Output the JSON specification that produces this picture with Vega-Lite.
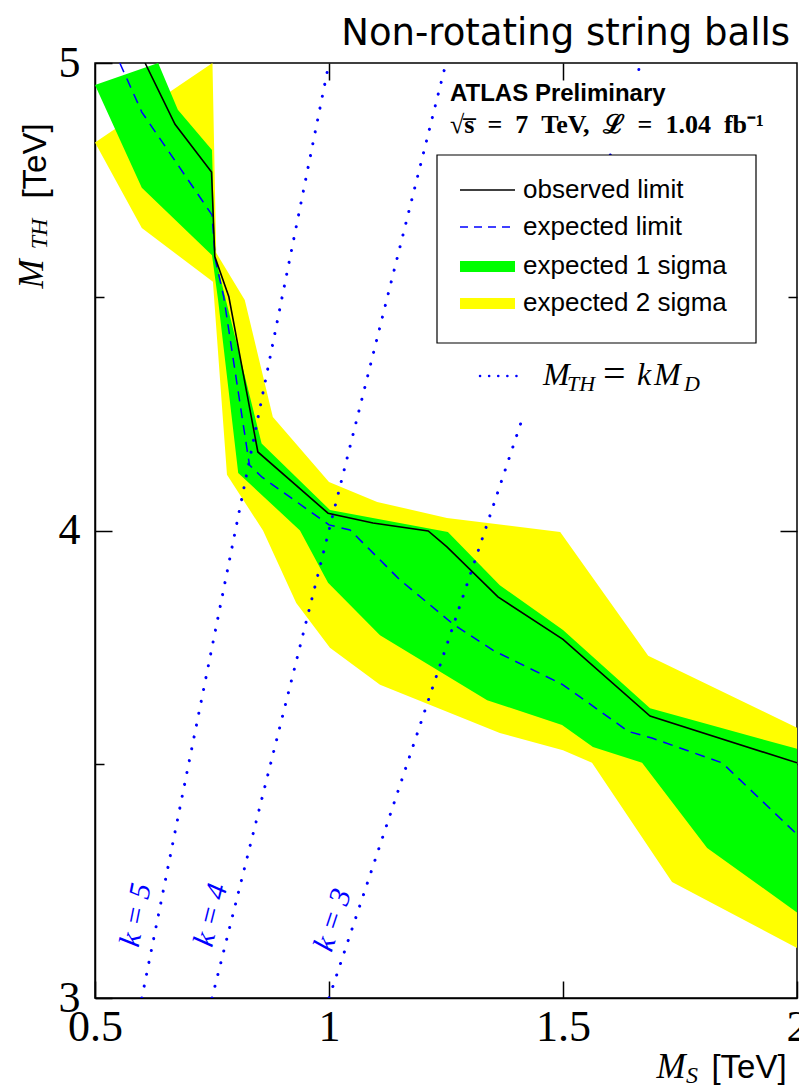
{
"$schema": "https://vega.github.io/schema/vega-lite/v6.json",
"width": 702, "height": 935,
"autosize": {"type": "none"},
"padding": {"left": 95, "top": 63, "right": 2, "bottom": 93},
"background": "white",
"config": {"view": {"stroke": "black", "strokeWidth": 1.5}, "axis": {"grid": false, "title": null, "zindex": 1}},
"resolve": {"axis": {"x": "independent", "y": "independent"}},
"datasets": {
"yellow": [
{"i":1,"ms":0.5,"mth":4.83},{"i":2,"ms":0.751,"mth":5.0},{"i":3,"ms":0.759,"mth":4.594},{"i":4,"ms":0.82,"mth":4.493},
{"i":5,"ms":0.88,"mth":4.243},{"i":6,"ms":1.0,"mth":4.104},{"i":7,"ms":1.103,"mth":4.061},{"i":8,"ms":1.252,"mth":4.027},
{"i":9,"ms":1.494,"mth":3.997},{"i":10,"ms":1.682,"mth":3.732},{"i":11,"ms":2.0,"mth":3.578},{"i":12,"ms":2.0,"mth":3.107},
{"i":13,"ms":1.733,"mth":3.248},{"i":14,"ms":1.562,"mth":3.503},{"i":15,"ms":1.5,"mth":3.53},{"i":16,"ms":1.365,"mth":3.567},
{"i":17,"ms":1.109,"mth":3.67},{"i":18,"ms":1.002,"mth":3.749},{"i":19,"ms":0.93,"mth":3.845},{"i":20,"ms":0.859,"mth":4.0},
{"i":21,"ms":0.782,"mth":4.119},{"i":22,"ms":0.755,"mth":4.49},{"i":23,"ms":0.752,"mth":4.532},{"i":24,"ms":0.6,"mth":4.647}
],
"green": [
{"i":1,"ms":0.5,"mth":4.953},{"i":2,"ms":0.635,"mth":5.0},{"i":3,"ms":0.677,"mth":4.9},{"i":4,"ms":0.75,"mth":4.814},
{"i":5,"ms":0.756,"mth":4.588},{"i":6,"ms":0.856,"mth":4.186},{"i":7,"ms":1.002,"mth":4.044},{"i":8,"ms":1.254,"mth":3.997},
{"i":9,"ms":1.365,"mth":3.883},{"i":10,"ms":1.5,"mth":3.787},{"i":11,"ms":1.686,"mth":3.62},{"i":12,"ms":2.0,"mth":3.533},
{"i":13,"ms":2.0,"mth":3.183},{"i":14,"ms":1.808,"mth":3.321},{"i":15,"ms":1.669,"mth":3.503},{"i":16,"ms":1.564,"mth":3.537},
{"i":17,"ms":1.498,"mth":3.584},{"i":18,"ms":1.338,"mth":3.637},{"i":19,"ms":1.109,"mth":3.776},{"i":20,"ms":0.998,"mth":3.888},
{"i":21,"ms":0.938,"mth":4.0},{"i":22,"ms":0.806,"mth":4.123},{"i":23,"ms":0.763,"mth":4.493},{"i":24,"ms":0.75,"mth":4.589},
{"i":25,"ms":0.6,"mth":4.733}
],
"observed": [
{"ms":0.607,"mth":5.0},{"ms":0.671,"mth":4.869},{"ms":0.749,"mth":4.767},{"ms":0.756,"mth":4.586},{"ms":0.786,"mth":4.5},
{"ms":0.848,"mth":4.168},{"ms":0.998,"mth":4.037},{"ms":1.094,"mth":4.016},{"ms":1.212,"mth":3.999},{"ms":1.252,"mth":3.965},
{"ms":1.361,"mth":3.858},{"ms":1.5,"mth":3.767},{"ms":1.686,"mth":3.603},{"ms":2.0,"mth":3.503}
],
"expected": [
{"ms":0.553,"mth":5.0},{"ms":0.6,"mth":4.895},{"ms":0.75,"mth":4.675},{"ms":0.757,"mth":4.58},{"ms":0.775,"mth":4.5},
{"ms":0.83,"mth":4.14},{"ms":0.857,"mth":4.114},{"ms":1.0,"mth":4.012},{"ms":1.045,"mth":4.001},{"ms":1.152,"mth":3.894},
{"ms":1.265,"mth":3.8},{"ms":1.35,"mth":3.744},{"ms":1.5,"mth":3.67},{"ms":1.64,"mth":3.57},{"ms":1.69,"mth":3.556},
{"ms":1.84,"mth":3.503},{"ms":2.0,"mth":3.35}
],
"klines": [
{"seg":"k5","ms":0.6,"mth":3.0},{"seg":"k5","ms":1.0,"mth":5.0},
{"seg":"k4","ms":0.75,"mth":3.0},{"seg":"k4","ms":1.25,"mth":5.0},
{"seg":"k3a","ms":1.0,"mth":3.0},{"seg":"k3a","ms":1.412,"mth":4.236},
{"seg":"k3b","ms":1.601,"mth":4.803},{"seg":"k3b","ms":1.604,"mth":4.812},
{"seg":"k3c","ms":1.662,"mth":4.986},{"seg":"k3c","ms":1.6667,"mth":5.0}
]
},
"layer": [
{"data": {"name": "yellow"},
 "mark": {"type": "line", "fill": "#ffff00", "strokeOpacity": 0, "strokeWidth": 0, "clip": true},
 "encoding": {
  "x": {"field": "ms", "type": "quantitative", "scale": {"domain": [0.5, 2], "nice": false, "zero": false},
        "axis": {"orient": "bottom", "values": [0.5, 1, 1.5, 2], "format": "~g", "tickSize": -17, "tickColor": "black", "tickWidth": 1.5, "domainColor": "black", "domainWidth": 1.5, "labelFont": "Liberation Serif", "labelFontSize": 44, "labelColor": "black", "labelPadding": 24, "labelFlush": false, "labelOverlap": false}},
  "y": {"field": "mth", "type": "quantitative", "scale": {"domain": [3, 5], "nice": false, "zero": false},
        "axis": {"orient": "left", "values": [3, 4, 5], "format": "~g", "tickSize": -17, "tickColor": "black", "tickWidth": 1.5, "domainColor": "black", "domainWidth": 1.5, "labelFont": "Liberation Serif", "labelFontSize": 44, "labelColor": "black", "labelPadding": 32, "labelOverlap": false}},
  "order": {"field": "i", "type": "quantitative"}}},
{"data": {"name": "green"},
 "mark": {"type": "line", "fill": "#00ff00", "strokeOpacity": 0, "strokeWidth": 0, "clip": true},
 "encoding": {
  "x": {"field": "ms", "type": "quantitative", "scale": {"domain": [0.5, 2], "nice": false, "zero": false},
        "axis": {"orient": "top", "values": [1, 1.5], "tickSize": -17, "tickColor": "black", "tickWidth": 1.5, "labels": false, "domain": false}},
  "y": {"field": "mth", "type": "quantitative", "scale": {"domain": [3, 5], "nice": false, "zero": false},
        "axis": {"orient": "right", "values": [4], "tickSize": -17, "tickColor": "black", "tickWidth": 1.5, "labels": false, "domain": false}},
  "order": {"field": "i", "type": "quantitative"}}},
{"data": {"name": "klines"},
 "mark": {"type": "line", "color": "#0000ff", "strokeWidth": 3, "strokeDash": [0.1, 12], "strokeCap": "round", "clip": true},
 "encoding": {
  "x": {"field": "ms", "type": "quantitative", "scale": {"domain": [0.5, 2], "nice": false, "zero": false}, "axis": null},
  "y": {"field": "mth", "type": "quantitative", "scale": {"domain": [3, 5], "nice": false, "zero": false},
        "axis": {"orient": "left", "values": [3.5, 4.5], "tickSize": -9, "tickColor": "black", "tickWidth": 1.5, "labels": false, "domain": false}},
  "detail": {"field": "seg", "type": "nominal"}}},
{"data": {"name": "expected"},
 "mark": {"type": "line", "color": "#0000ff", "strokeWidth": 1.5, "strokeDash": [10, 7], "clip": true},
 "encoding": {
  "x": {"field": "ms", "type": "quantitative", "scale": {"domain": [0.5, 2], "nice": false, "zero": false}, "axis": null},
  "y": {"field": "mth", "type": "quantitative", "scale": {"domain": [3, 5], "nice": false, "zero": false},
        "axis": {"orient": "right", "values": [3.5, 4.5], "tickSize": -9, "tickColor": "black", "tickWidth": 1.5, "labels": false, "domain": false}}}},
{"data": {"name": "observed"},
 "mark": {"type": "line", "color": "black", "strokeWidth": 1.6, "clip": true},
 "encoding": {
  "x": {"field": "ms", "type": "quantitative", "scale": {"domain": [0.5, 2], "nice": false, "zero": false}, "axis": null},
  "y": {"field": "mth", "type": "quantitative", "scale": {"domain": [3, 5], "nice": false, "zero": false}, "axis": null}}},
{"data": {"values": [{}]},
 "mark": {"type": "rect", "fill": "white", "stroke": "black", "strokeWidth": 1.2},
 "encoding": {
  "x": {"datum": 1.23077, "type": "quantitative", "scale": {"domain": [0.5, 2], "nice": false, "zero": false}, "axis": null},
  "x2": {"datum": 1.91239},
  "y": {"datum": 4.80321, "type": "quantitative", "scale": {"domain": [3, 5], "nice": false, "zero": false}, "axis": null},
  "y2": {"datum": 4.40107}}},
{"data": {"values": [{}]},
 "mark": {"type": "rule", "color": "black", "strokeWidth": 1.5},
 "encoding": {
  "x": {"datum": 1.27991, "type": "quantitative", "scale": {"domain": [0.5, 2], "nice": false, "zero": false}, "axis": null},
  "x2": {"datum": 1.39744},
  "y": {"datum": 4.72834, "type": "quantitative", "scale": {"domain": [3, 5], "nice": false, "zero": false}, "axis": null}}},
{"data": {"values": [{}]},
 "mark": {"type": "rule", "color": "#0000ff", "strokeWidth": 1.5, "strokeDash": [8, 6]},
 "encoding": {
  "x": {"datum": 1.27991, "type": "quantitative", "scale": {"domain": [0.5, 2], "nice": false, "zero": false}, "axis": null},
  "x2": {"datum": 1.39744},
  "y": {"datum": 4.6492, "type": "quantitative", "scale": {"domain": [3, 5], "nice": false, "zero": false}, "axis": null}}},
{"data": {"values": [{}]},
 "mark": {"type": "rect", "fill": "#00ff00"},
 "encoding": {
  "x": {"datum": 1.27991, "type": "quantitative", "scale": {"domain": [0.5, 2], "nice": false, "zero": false}, "axis": null},
  "x2": {"datum": 1.39744},
  "y": {"datum": 4.57647, "type": "quantitative", "scale": {"domain": [3, 5], "nice": false, "zero": false}, "axis": null},
  "y2": {"datum": 4.55294}}},
{"data": {"values": [{}]},
 "mark": {"type": "rect", "fill": "#ffff00"},
 "encoding": {
  "x": {"datum": 1.27991, "type": "quantitative", "scale": {"domain": [0.5, 2], "nice": false, "zero": false}, "axis": null},
  "x2": {"datum": 1.39744},
  "y": {"datum": 4.49733, "type": "quantitative", "scale": {"domain": [3, 5], "nice": false, "zero": false}, "axis": null},
  "y2": {"datum": 4.4738}}},
{"data": {"values": [{}]},
 "mark": {"type": "text", "text": "observed limit", "font": "Liberation Sans", "fontSize": 26, "align": "left", "baseline": "middle", "color": "black"},
 "encoding": {
  "x": {"datum": 1.41453, "type": "quantitative", "scale": {"domain": [0.5, 2], "nice": false, "zero": false}, "axis": null},
  "y": {"datum": 4.72834, "type": "quantitative", "scale": {"domain": [3, 5], "nice": false, "zero": false}, "axis": null}}},
{"data": {"values": [{}]},
 "mark": {"type": "text", "text": "expected limit", "font": "Liberation Sans", "fontSize": 26, "align": "left", "baseline": "middle", "color": "black"},
 "encoding": {
  "x": {"datum": 1.41453, "type": "quantitative", "scale": {"domain": [0.5, 2], "nice": false, "zero": false}, "axis": null},
  "y": {"datum": 4.6492, "type": "quantitative", "scale": {"domain": [3, 5], "nice": false, "zero": false}, "axis": null}}},
{"data": {"values": [{}]},
 "mark": {"type": "text", "text": "expected 1 sigma", "font": "Liberation Sans", "fontSize": 26, "align": "left", "baseline": "middle", "color": "black"},
 "encoding": {
  "x": {"datum": 1.41453, "type": "quantitative", "scale": {"domain": [0.5, 2], "nice": false, "zero": false}, "axis": null},
  "y": {"datum": 4.56578, "type": "quantitative", "scale": {"domain": [3, 5], "nice": false, "zero": false}, "axis": null}}},
{"data": {"values": [{}]},
 "mark": {"type": "text", "text": "expected 2 sigma", "font": "Liberation Sans", "fontSize": 26, "align": "left", "baseline": "middle", "color": "black"},
 "encoding": {
  "x": {"datum": 1.41453, "type": "quantitative", "scale": {"domain": [0.5, 2], "nice": false, "zero": false}, "axis": null},
  "y": {"datum": 4.48663, "type": "quantitative", "scale": {"domain": [3, 5], "nice": false, "zero": false}, "axis": null}}},
{"data": {"values": [{}]},
 "mark": {"type": "rule", "color": "#0000ff", "strokeWidth": 2.5, "strokeDash": [0.1, 9], "strokeCap": "round"},
 "encoding": {
  "x": {"datum": 1.32265, "type": "quantitative", "scale": {"domain": [0.5, 2], "nice": false, "zero": false}, "axis": null},
  "x2": {"datum": 1.41453},
  "y": {"datum": 4.33048, "type": "quantitative", "scale": {"domain": [3, 5], "nice": false, "zero": false}, "axis": null}}},
{"data": {"values": [{}]},
 "mark": {"type": "text", "text": "M", "font": "Liberation Serif", "fontStyle": "italic", "fontSize": 32, "align": "left", "baseline": "alphabetic", "color": "black"},
 "encoding": {
  "x": {"datum": 1.45726, "type": "quantitative", "scale": {"domain": [0.5, 2], "nice": false, "zero": false}, "axis": null},
  "y": {"datum": 4.31123, "type": "quantitative", "scale": {"domain": [3, 5], "nice": false, "zero": false}, "axis": null}}},
{"data": {"values": [{}]},
 "mark": {"type": "text", "text": "TH", "font": "Liberation Serif", "fontStyle": "italic", "fontSize": 22, "align": "left", "baseline": "alphabetic", "color": "black"},
 "encoding": {
  "x": {"datum": 1.5085, "type": "quantitative", "scale": {"domain": [0.5, 2], "nice": false, "zero": false}, "axis": null},
  "y": {"datum": 4.2984, "type": "quantitative", "scale": {"domain": [3, 5], "nice": false, "zero": false}, "axis": null}}},
{"data": {"values": [{}]},
 "mark": {"type": "text", "text": "=", "font": "Liberation Serif", "fontSize": 40, "align": "left", "baseline": "alphabetic", "color": "black"},
 "encoding": {
  "x": {"datum": 1.5855, "type": "quantitative", "scale": {"domain": [0.5, 2], "nice": false, "zero": false}, "axis": null},
  "y": {"datum": 4.30695, "type": "quantitative", "scale": {"domain": [3, 5], "nice": false, "zero": false}, "axis": null}}},
{"data": {"values": [{}]},
 "mark": {"type": "text", "text": "k", "font": "Liberation Serif", "fontStyle": "italic", "fontSize": 32, "align": "left", "baseline": "alphabetic", "color": "black"},
 "encoding": {
  "x": {"datum": 1.65812, "type": "quantitative", "scale": {"domain": [0.5, 2], "nice": false, "zero": false}, "axis": null},
  "y": {"datum": 4.31123, "type": "quantitative", "scale": {"domain": [3, 5], "nice": false, "zero": false}, "axis": null}}},
{"data": {"values": [{}]},
 "mark": {"type": "text", "text": "M", "font": "Liberation Serif", "fontStyle": "italic", "fontSize": 32, "align": "left", "baseline": "alphabetic", "color": "black"},
 "encoding": {
  "x": {"datum": 1.6944, "type": "quantitative", "scale": {"domain": [0.5, 2], "nice": false, "zero": false}, "axis": null},
  "y": {"datum": 4.31123, "type": "quantitative", "scale": {"domain": [3, 5], "nice": false, "zero": false}, "axis": null}}},
{"data": {"values": [{}]},
 "mark": {"type": "text", "text": "D", "font": "Liberation Serif", "fontStyle": "italic", "fontSize": 22, "align": "left", "baseline": "alphabetic", "color": "black"},
 "encoding": {
  "x": {"datum": 1.7585, "type": "quantitative", "scale": {"domain": [0.5, 2], "nice": false, "zero": false}, "axis": null},
  "y": {"datum": 4.2984, "type": "quantitative", "scale": {"domain": [3, 5], "nice": false, "zero": false}, "axis": null}}},
{"data": {"values": [{}]},
 "mark": {"type": "text", "text": "ATLAS Preliminary", "font": "Liberation Sans", "fontWeight": "bold", "fontSize": 24, "align": "left", "baseline": "middle", "color": "black"},
 "encoding": {
  "x": {"datum": 1.25855, "type": "quantitative", "scale": {"domain": [0.5, 2], "nice": false, "zero": false}, "axis": null},
  "y": {"datum": 4.93369, "type": "quantitative", "scale": {"domain": [3, 5], "nice": false, "zero": false}, "axis": null}}},
{"data": {"values": [{}]},
 "mark": {"type": "text", "text": "√s̅\u00a0\u00a0=\u00a0\u00a07\u00a0\u00a0TeV,\u00a0\u00a0ℒ\u00a0\u00a0=\u00a0\u00a01.04\u00a0\u00a0fb⁻¹", "font": "Liberation Serif", "fontWeight": "bold", "fontSize": 26, "align": "left", "baseline": "middle", "color": "black"},
 "encoding": {
  "x": {"datum": 1.25855, "type": "quantitative", "scale": {"domain": [0.5, 2], "nice": false, "zero": false}, "axis": null},
  "y": {"datum": 4.86738, "type": "quantitative", "scale": {"domain": [3, 5], "nice": false, "zero": false}, "axis": null}}},
{"data": {"values": [{}]},
 "mark": {"type": "text", "text": "Non-rotating string balls", "font": "DejaVu Sans", "fontWeight": 400, "fontSize": 37, "align": "right", "baseline": "middle", "color": "black"},
 "encoding": {
  "x": {"datum": 1.98504, "type": "quantitative", "scale": {"domain": [0.5, 2], "nice": false, "zero": false}, "axis": null},
  "y": {"datum": 5.06203, "type": "quantitative", "scale": {"domain": [3, 5], "nice": false, "zero": false}, "axis": null}}},
{"data": {"values": [{}]},
 "mark": {"type": "text", "text": "k = 5", "font": "Liberation Serif", "fontStyle": "italic", "fontSize": 30, "align": "center", "baseline": "middle", "angle": -78.7, "color": "#0000ff"},
 "encoding": {
  "x": {"datum": 0.5876, "type": "quantitative", "scale": {"domain": [0.5, 2], "nice": false, "zero": false}, "axis": null},
  "y": {"datum": 3.1775, "type": "quantitative", "scale": {"domain": [3, 5], "nice": false, "zero": false}, "axis": null}}},
{"data": {"values": [{}]},
 "mark": {"type": "text", "text": "k = 4", "font": "Liberation Serif", "fontStyle": "italic", "fontSize": 30, "align": "center", "baseline": "middle", "angle": -76, "color": "#0000ff"},
 "encoding": {
  "x": {"datum": 0.7479, "type": "quantitative", "scale": {"domain": [0.5, 2], "nice": false, "zero": false}, "axis": null},
  "y": {"datum": 3.1775, "type": "quantitative", "scale": {"domain": [3, 5], "nice": false, "zero": false}, "axis": null}}},
{"data": {"values": [{}]},
 "mark": {"type": "text", "text": "k = 3", "font": "Liberation Serif", "fontStyle": "italic", "fontSize": 30, "align": "center", "baseline": "middle", "angle": -71.6, "color": "#0000ff"},
 "encoding": {
  "x": {"datum": 1.0085, "type": "quantitative", "scale": {"domain": [0.5, 2], "nice": false, "zero": false}, "axis": null},
  "y": {"datum": 3.1668, "type": "quantitative", "scale": {"domain": [3, 5], "nice": false, "zero": false}, "axis": null}}},
{"data": {"values": [{}]},
 "mark": {"type": "text", "text": "M", "font": "Liberation Serif", "fontStyle": "italic", "fontSize": 35, "align": "center", "baseline": "alphabetic", "angle": -90, "color": "black"},
 "encoding": {
  "x": {"datum": 0.38889, "type": "quantitative", "scale": {"domain": [0.5, 2], "nice": false, "zero": false}, "axis": null},
  "y": {"datum": 4.5487, "type": "quantitative", "scale": {"domain": [3, 5], "nice": false, "zero": false}, "axis": null}}},
{"data": {"values": [{}]},
 "mark": {"type": "text", "text": "TH", "font": "Liberation Serif", "fontStyle": "italic", "fontSize": 24, "align": "center", "baseline": "alphabetic", "angle": -90, "color": "black"},
 "encoding": {
  "x": {"datum": 0.39744, "type": "quantitative", "scale": {"domain": [0.5, 2], "nice": false, "zero": false}, "axis": null},
  "y": {"datum": 4.6342, "type": "quantitative", "scale": {"domain": [3, 5], "nice": false, "zero": false}, "axis": null}}},
{"data": {"values": [{}]},
 "mark": {"type": "text", "text": "[TeV]", "font": "Liberation Sans", "fontSize": 33, "align": "center", "baseline": "alphabetic", "angle": -90, "color": "black"},
 "encoding": {
  "x": {"datum": 0.3953, "type": "quantitative", "scale": {"domain": [0.5, 2], "nice": false, "zero": false}, "axis": null},
  "y": {"datum": 4.79037, "type": "quantitative", "scale": {"domain": [3, 5], "nice": false, "zero": false}, "axis": null}}},
{"data": {"values": [{}]},
 "mark": {"type": "text", "text": "M", "font": "Liberation Serif", "fontStyle": "italic", "fontSize": 35, "align": "center", "baseline": "alphabetic", "color": "black"},
 "encoding": {
  "x": {"datum": 1.73077, "type": "quantitative", "scale": {"domain": [0.5, 2], "nice": false, "zero": false}, "axis": null},
  "y": {"datum": 2.82888, "type": "quantitative", "scale": {"domain": [3, 5], "nice": false, "zero": false}, "axis": null}}},
{"data": {"values": [{}]},
 "mark": {"type": "text", "text": "S", "font": "Liberation Serif", "fontStyle": "italic", "fontSize": 24, "align": "center", "baseline": "alphabetic", "color": "black"},
 "encoding": {
  "x": {"datum": 1.77564, "type": "quantitative", "scale": {"domain": [0.5, 2], "nice": false, "zero": false}, "axis": null},
  "y": {"datum": 2.81818, "type": "quantitative", "scale": {"domain": [3, 5], "nice": false, "zero": false}, "axis": null}}},
{"data": {"values": [{}]},
 "mark": {"type": "text", "text": "[TeV]", "font": "Liberation Sans", "fontSize": 33, "align": "center", "baseline": "alphabetic", "color": "black"},
 "encoding": {
  "x": {"datum": 1.8974, "type": "quantitative", "scale": {"domain": [0.5, 2], "nice": false, "zero": false}, "axis": null},
  "y": {"datum": 2.82888, "type": "quantitative", "scale": {"domain": [3, 5], "nice": false, "zero": false}, "axis": null}}}
]
}
